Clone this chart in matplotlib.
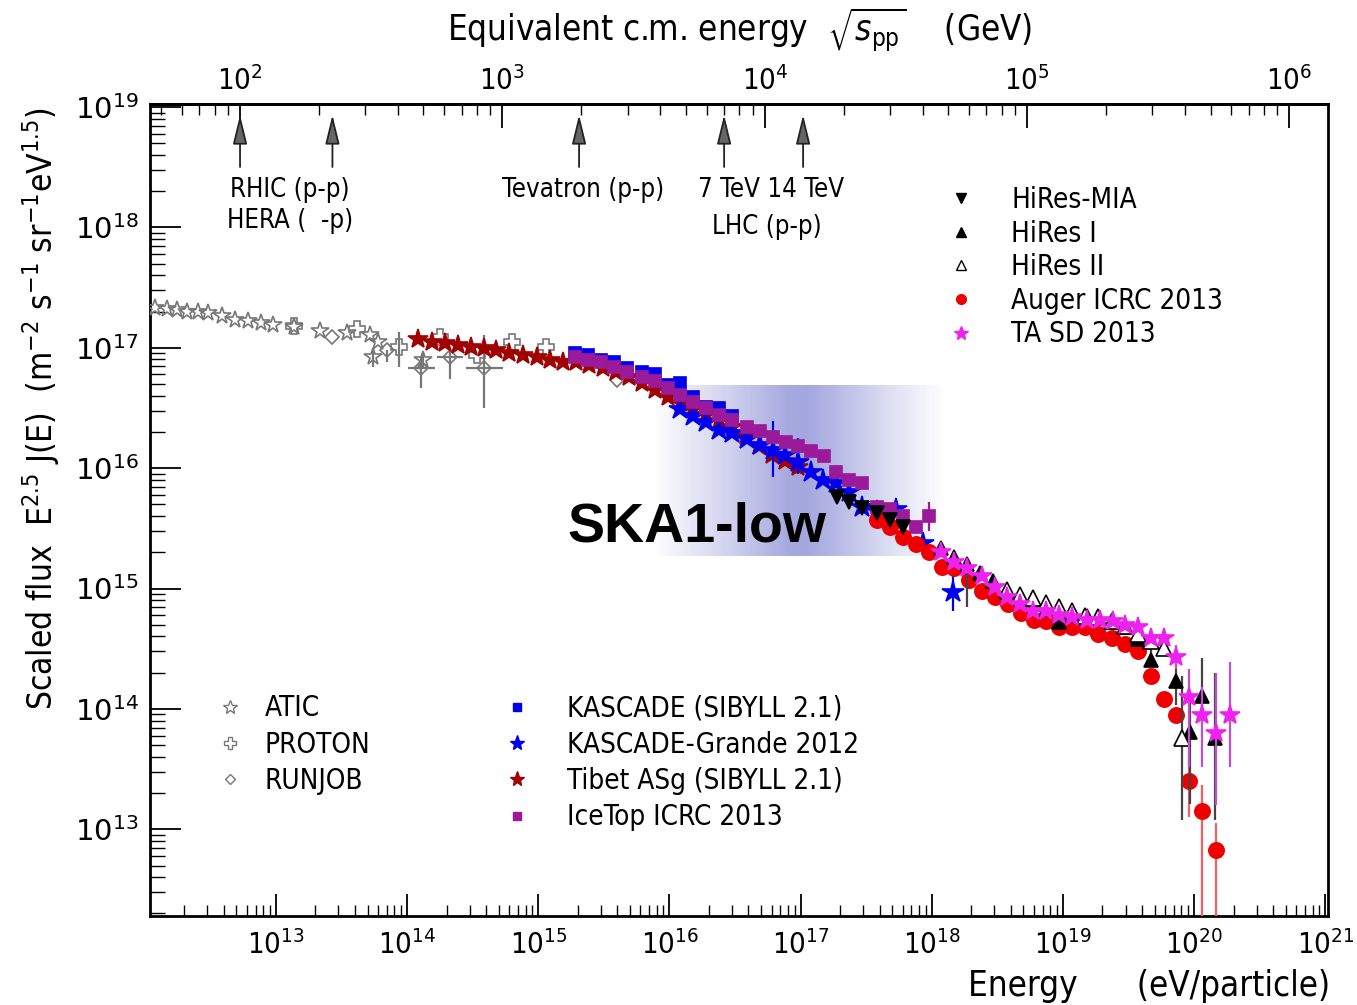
import numpy as np
import matplotlib
matplotlib.use("Agg")
import matplotlib.pyplot as plt
from matplotlib.lines import Line2D
from matplotlib.ticker import LogLocator, NullFormatter
from matplotlib.colors import LinearSegmentedColormap

plt.rcParams['font.family'] = ['DejaVu Sans']
plt.rcParams['font.stretch'] = 'condensed'

# --- data, log10(E / eV) and log10(E^2.5 J(E)) ---
atic_logE = [12.08, 12.17, 12.25, 12.32, 12.41, 12.48, 12.59, 12.69, 12.79, 12.89, 12.98,
             13.14, 13.34, 13.54, 13.72, 13.78, 13.74, 14.12]
atic_logF = [17.33, 17.32, 17.31, 17.30, 17.30, 17.29, 17.26, 17.23, 17.22, 17.21, 17.19,
             17.17, 17.14, 17.12, 17.11, 17.05, 16.92, 16.90]
atic_elo = [0]*16 + [0.08, 0.06]
atic_ehi = [0]*16 + [0.08, 0.06]

proton_logE = [13.14, 13.62, 13.94, 14.25, 14.53, 14.80, 15.06]
proton_logF = [17.18, 17.16, 17.01, 17.09, 16.94, 17.05, 17.01]
proton_elo = [0, 0, 0.17, 0, 0, 0, 0]
proton_ehi = [0, 0, 0.12, 0, 0, 0, 0]

runjob_logE = [13.43, 13.85, 14.11, 14.33, 14.59, 15.60]
runjob_logF = [17.09, 16.98, 16.83, 16.92, 16.83, 16.73]
runjob_xerr = [0, 0, 0.10, 0.10, 0.14, 0]
runjob_elo = [0, 0.10, 0.16, 0.18, 0.33, 0]
runjob_ehi = [0, 0, 0.10, 0.06, 0.28, 0]

tibet_logE = [14.08, 14.19, 14.29, 14.39, 14.49, 14.59, 14.68, 14.78, 14.88, 14.99,
              15.09, 15.19, 15.29, 15.39, 15.49, 15.59, 15.69, 15.79, 15.89, 15.99,
              16.09, 16.18, 16.28, 16.38, 16.48, 16.58, 16.68, 16.78, 16.88, 16.98]
tibet_logF = [17.07, 17.05, 17.04, 17.02, 17.01, 17.00, 16.98, 16.96, 16.94, 16.92,
              16.90, 16.88, 16.88, 16.86, 16.83, 16.80, 16.76, 16.71, 16.65, 16.59,
              16.54, 16.49, 16.44, 16.39, 16.34, 16.27, 16.18, 16.11, 16.06, 16.01]

kascade_logE = [15.28, 15.38, 15.48, 15.58, 15.68, 15.79, 15.89, 15.99, 16.08, 16.18, 16.28, 16.38, 16.48]
kascade_logF = [16.96, 16.94, 16.90, 16.88, 16.83, 16.80, 16.78, 16.69, 16.71, 16.59, 16.51, 16.50, 16.43]

kg_logE = [16.08, 16.18, 16.28, 16.38, 16.48, 16.59, 16.69, 16.79, 16.88, 16.98,
           17.08, 17.17, 17.27, 17.37, 17.47, 17.58, 17.73, 17.93, 18.16]
kg_logF = [16.49, 16.43, 16.38, 16.32, 16.29, 16.24, 16.19, 16.15, 16.11, 16.05,
           15.97, 15.90, 15.88, 15.80, 15.68, 15.64, 15.66, 15.38, 14.97]
kg_elo = [0]*7 + [0.22, 0, 0.10] + [0]*8 + [0.16]
kg_ehi = [0]*7 + [0.24, 0, 0.20] + [0]*8 + [0.16]

icetop_logE = [15.28, 15.38, 15.48, 15.58, 15.68, 15.79, 15.89, 15.99, 16.08, 16.18,
               16.28, 16.38, 16.48, 16.59, 16.69, 16.79, 16.89, 16.98, 17.08, 17.18,
               17.27, 17.37, 17.47, 17.58, 17.68, 17.78, 17.88, 17.98]
icetop_logF = [16.92, 16.90, 16.88, 16.84, 16.80, 16.76, 16.72, 16.67, 16.61, 16.55,
               16.50, 16.44, 16.40, 16.34, 16.31, 16.26, 16.22, 16.18, 16.14, 16.10,
               15.97, 15.90, 15.88, 15.68, 15.66, 15.60, 15.51, 15.60]
icetop_elo = [0]*20 + [0.06] + [0]*6 + [0.12]
icetop_ehi = [0]*20 + [0.06] + [0]*6 + [0.12]

mia_logE = [17.28, 17.37, 17.47, 17.58, 17.68, 17.78]
mia_logF = [15.76, 15.72, 15.67, 15.63, 15.57, 15.51]

hires1_logE = [18.07, 18.17, 18.27, 18.37, 18.47, 18.57, 18.67, 18.77, 18.87, 18.97, 19.07,
               19.18, 19.27, 19.37, 19.47, 19.57, 19.67, 19.86, 19.97, 20.06, 20.16]
hires1_logF = [15.34, 15.26, 15.20, 15.13, 15.06, 14.97, 14.93, 14.88, 14.83, 14.72, 14.78,
               14.77, 14.76, 14.72, 14.68, 14.58, 14.41, 14.23, 13.81, 14.11, 13.76]
hires1_elo = [0, 0, 0.35] + [0]*14 + [0.20, 0.60, 0.20, 0.68]
hires1_ehi = [0, 0, 0.05] + [0]*14 + [0.20, 0.30, 0.31, 0.54]

hires2_logE = [18.57, 18.67, 18.77, 18.87, 18.97, 19.07, 19.17, 19.27, 19.37, 19.47, 19.57, 19.67, 19.77, 19.91]
hires2_logF = [14.99, 14.95, 14.92, 14.88, 14.85, 14.81, 14.77, 14.76, 14.73, 14.69, 14.62, 14.56, 14.51, 13.76]
hires2_elo = [0]*11 + [0.10, 0, 0.68]
hires2_ehi = [0]*11 + [0.10, 0, 0.51]

auger_logE = [17.58, 17.68, 17.78, 17.88, 17.98, 18.08, 18.17, 18.28, 18.38, 18.48, 18.58, 18.68, 18.78, 18.87,
              18.97, 19.07, 19.17, 19.27, 19.37, 19.47, 19.57, 19.67, 19.77, 19.86, 19.96, 20.06, 20.17]
auger_logF = [15.57, 15.51, 15.43, 15.37, 15.30, 15.18, 15.17, 15.07, 14.98, 14.93, 14.87, 14.80, 14.74, 14.73,
              14.68, 14.68, 14.68, 14.62, 14.59, 14.54, 14.48, 14.27, 14.08, 13.95, 13.40, 13.15, 12.83]
auger_elo = [0]*24 + [0.30, 1.0, 1.0]
auger_ehi = [0]*24 + [0.20, 0.22, 0.22]

ta_logE = [18.07, 18.17, 18.27, 18.38, 18.48, 18.57, 18.67, 18.77, 18.87, 18.97, 19.07, 19.18,
           19.28, 19.38, 19.47, 19.57, 19.67, 19.77, 19.86, 19.96, 20.06, 20.17, 20.27]
ta_logF = [15.30, 15.22, 15.17, 15.10, 15.01, 14.93, 14.87, 14.81, 14.81, 14.78, 14.76, 14.74,
           14.74, 14.73, 14.70, 14.68, 14.59, 14.59, 14.43, 14.10, 13.95, 13.80, 13.95]
ta_elo = [0]*18 + [0.10, 0.58, 0.43, 0.60, 0.43]
ta_ehi = [0]*18 + [0.10, 0.23, 0.23, 0.50, 0.44]

# colliders, sqrt(s) in GeV
collider_sqrts = [100, 225, 1960, 7000, 14000]

# SKA1-low band (log10 E, log10 flux)
ska_logE = [15.89, 18.10]
ska_logF = [15.27, 16.69]

M_P = 0.938  # GeV


def e_to_sqrts(E):
    return np.sqrt(2 * M_P * np.maximum(E, 1e-30) / 1e9)


def sqrts_to_e(s):
    return np.asarray(s) ** 2 / (2 * M_P) * 1e9


fig = plt.figure(figsize=(13.57, 10.05), dpi=100)
ax = fig.add_axes([0.1105, 0.0886, 0.8681, 0.8079])
ax.set_xscale('log')
ax.set_yscale('log')
ax.set_xlim(10**12.04, 10**21.02)
ax.set_ylim(10**12.28, 10**19.025)

# SKA1-low gradient band
lavender = (0.50, 0.52, 0.82)
cmap = LinearSegmentedColormap.from_list('ska', [lavender + (0.0,), lavender + (1.0,)])
xe = np.logspace(ska_logE[0], ska_logE[1], 200)
xc = np.log10(np.sqrt(xe[:-1] * xe[1:]))
prof = np.interp(xc, [15.89, 16.1, 16.5, 16.9, 17.05, 17.3, 17.7, 18.1],
                 [0.0, 0.15, 0.40, 0.70, 0.72, 0.55, 0.25, 0.0])
ax.pcolormesh(xe, [10**ska_logF[0], 10**ska_logF[1]], prof[None, :], cmap=cmap,
              vmin=0, vmax=1, shading='flat', zorder=1, linewidth=0, antialiased=False)
ax.text(10**16.21, 10**15.51, 'SKA1-low', family='Liberation Sans', stretch='normal',
        fontweight='bold', fontsize=40, ha='center', va='center', zorder=2)


def draw(logE, logF, color, marker, ms, mfc=None, elo=None, ehi=None, xerr=None,
         ecolor=None, z=3, mew=1.2):
    lE = np.array(logE)
    lF = np.array(logF)
    E = 10**lE
    F = 10**lF
    yerr = None
    if elo is not None:
        yerr = [F - 10**(lF - np.array(elo)), 10**(lF + np.array(ehi)) - F]
    xe_ = None
    if xerr is not None:
        xe_ = [E - 10**(lE - np.array(xerr)), 10**(lE + np.array(xerr)) - E]
    ax.errorbar(E, F, yerr=yerr, xerr=xe_, fmt=marker, ms=ms, color=color,
                mfc=color if mfc is None else mfc, mec=color, mew=mew,
                ecolor=ecolor or color, elinewidth=1.6, capsize=0, zorder=z)


gray = '#777777'
draw(atic_logE, atic_logF, gray, '*', 13, mfc='none', elo=atic_elo, ehi=atic_ehi)
draw(proton_logE, proton_logF, gray, 'P', 11, mfc='none', elo=proton_elo, ehi=proton_ehi)
draw(runjob_logE, runjob_logF, gray, 'D', 7, mfc='none', elo=runjob_elo, ehi=runjob_ehi,
     xerr=runjob_xerr)
draw(tibet_logE, tibet_logF, '#a00000', '*', 15, z=4)
draw(kascade_logE, kascade_logF, '#0000ee', 's', 9, z=5)
draw(kg_logE, kg_logF, '#0000ee', '*', 16, elo=kg_elo, ehi=kg_ehi, z=6)
draw(icetop_logE, icetop_logF, '#9a1a9a', 's', 9, elo=icetop_elo, ehi=icetop_ehi, z=7)
draw(auger_logE, auger_logF, '#ee0000', 'o', 11, elo=auger_elo, ehi=auger_ehi,
     ecolor='#f06060', z=8)
draw(mia_logE, mia_logF, 'black', 'v', 10, z=9)
draw(hires1_logE, hires1_logF, 'black', '^', 10, elo=hires1_elo, ehi=hires1_ehi,
     ecolor='#444444', z=9)
draw(hires2_logE, hires2_logF, 'black', '^', 11, mfc='white', elo=hires2_elo, ehi=hires2_ehi,
     ecolor='#444444', z=9)
draw(ta_logE, ta_logF, '#ee22ee', '*', 15, elo=ta_elo, ehi=ta_ehi, ecolor='#c050d0', z=10)

# collider arrows
for s in collider_sqrts:
    e = sqrts_to_e(s)
    ax.annotate('', xy=(e, 0.99), xytext=(e, 0.919), xycoords=('data', 'axes fraction'),
                arrowprops=dict(arrowstyle='-|>,head_length=0.9,head_width=0.22',
                                mutation_scale=20, fc='#666666', ec='#222222', lw=1.3),
                zorder=3)

afs = 18.5
ax.text(0.119, 0.894, 'RHIC (p-p)', transform=ax.transAxes, fontsize=afs, ha='center', va='center')
ax.text(0.119, 0.856, 'HERA (  -p)', transform=ax.transAxes, fontsize=afs, ha='center', va='center')
ax.text(0.368, 0.894, 'Tevatron (p-p)', transform=ax.transAxes, fontsize=afs, ha='center', va='center')
ax.text(0.527, 0.894, '7 TeV 14 TeV', transform=ax.transAxes, fontsize=afs, ha='center', va='center')
ax.text(0.524, 0.849, 'LHC (p-p)', transform=ax.transAxes, fontsize=afs, ha='center', va='center')

# axes styling
for sp in ax.spines.values():
    sp.set_linewidth(2)
ax.xaxis.set_major_locator(LogLocator(base=10, numticks=30))
ax.xaxis.set_minor_locator(LogLocator(base=10, subs=np.arange(2, 10), numticks=30))
ax.xaxis.set_minor_formatter(NullFormatter())
ax.yaxis.set_major_locator(LogLocator(base=10, numticks=30))
ax.yaxis.set_minor_locator(LogLocator(base=10, subs=np.arange(2, 10), numticks=30))
ax.yaxis.set_minor_formatter(NullFormatter())
ax.tick_params(axis='x', which='major', direction='in', length=16, width=1.3, top=False,
               labelsize=21, pad=10)
ax.tick_params(axis='x', which='minor', direction='in', length=8, width=1, top=False)
ax.tick_params(axis='y', which='major', direction='in', length=22, width=1.3, right=False,
               labelsize=21, pad=8)
ax.tick_params(axis='y', which='minor', direction='in', length=11, width=1, right=False)

sec = ax.secondary_xaxis('top', functions=(e_to_sqrts, sqrts_to_e))
sec.xaxis.set_major_locator(LogLocator(base=10, numticks=30))
sec.xaxis.set_minor_locator(LogLocator(base=10, subs=np.arange(2, 10), numticks=30))
sec.xaxis.set_minor_formatter(NullFormatter())
sec.tick_params(which='major', direction='in', length=17, width=1.3, labelsize=21, pad=6)
sec.tick_params(which='minor', direction='in', length=8, width=1)
sec.spines['top'].set_linewidth(2)

# y tick labels are drawn wider in the reference
for t in ax.get_yticklabels():
    t.set_fontstretch('normal')

fig.text(0.545, 0.970, r'Equivalent c.m. energy  $\sqrt{s_{\rm pp}}$    (GeV)', fontsize=25,
         ha='center', va='center')
fig.text(0.980, 0.019, 'Energy      (eV/particle)', fontsize=25, ha='right', va='center')
fig.text(0.030, 0.594, r'Scaled flux  E$^{2.5}$ J(E)  (m$^{-2}$ s$^{-1}$ sr$^{-1}$eV$^{1.5}$)',
         fontsize=24, rotation=90, ha='center', va='center')

# legends
lfs = 20
h1 = [Line2D([], [], ls='none', marker='v', color='black', ms=7),
      Line2D([], [], ls='none', marker='^', color='black', ms=7),
      Line2D([], [], ls='none', marker='^', color='black', mfc='white', ms=7),
      Line2D([], [], ls='none', marker='o', color='#ee0000', ms=7),
      Line2D([], [], ls='none', marker='*', color='#ee22ee', ms=10)]
l1 = ax.legend(h1, ['HiRes-MIA', 'HiRes I', 'HiRes II', 'Auger ICRC 2013', 'TA SD 2013'],
               loc='upper left', bbox_to_anchor=(0.677, 0.899), frameon=False, fontsize=lfs,
               handlelength=1.0, handletextpad=1.3, labelspacing=0.2, borderpad=0,
               borderaxespad=0)
ax.add_artist(l1)

h2 = [Line2D([], [], ls='none', marker='*', color=gray, mfc='none', ms=10),
      Line2D([], [], ls='none', marker='P', color=gray, mfc='none', ms=8),
      Line2D([], [], ls='none', marker='D', color=gray, mfc='none', ms=5)]
l2 = ax.legend(h2, ['ATIC', 'PROTON', 'RUNJOB'], loc='upper left',
               bbox_to_anchor=(0.056, 0.273), frameon=False, fontsize=lfs, handlelength=1.0,
               handletextpad=0.75, labelspacing=0.3, borderpad=0, borderaxespad=0)
ax.add_artist(l2)

h3 = [Line2D([], [], ls='none', marker='s', color='#0000ee', ms=6),
      Line2D([], [], ls='none', marker='*', color='#0000ee', ms=11),
      Line2D([], [], ls='none', marker='*', color='#a00000', ms=11),
      Line2D([], [], ls='none', marker='s', color='#9a1a9a', ms=6)]
ax.legend(h3, ['KASCADE (SIBYLL 2.1)', 'KASCADE-Grande 2012', 'Tibet ASg (SIBYLL 2.1)',
               'IceTop ICRC 2013'], loc='upper left', bbox_to_anchor=(0.2997, 0.273),
          frameon=False, fontsize=lfs, handlelength=1.0, handletextpad=1.3, labelspacing=0.3,
          borderpad=0, borderaxespad=0)

fig.savefig('out.png', dpi=100)
